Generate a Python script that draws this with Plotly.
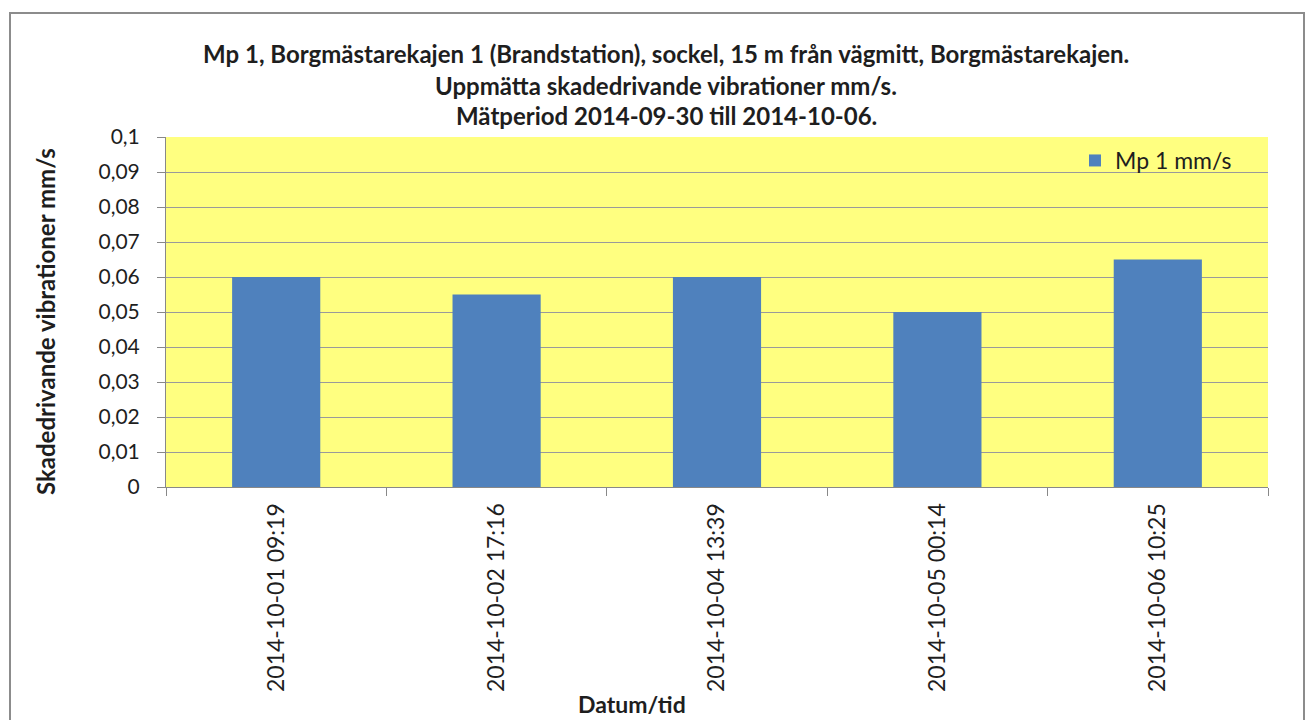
import plotly.graph_objects as go

categories = ["2014-10-01 09:19", "2014-10-02 17:16", "2014-10-04 13:39", "2014-10-05 00:14", "2014-10-06 10:25"]
values = [0.06, 0.055, 0.06, 0.05, 0.065]
series_name = "Mp 1 mm/s"
y_ticks = [0, 0.01, 0.02, 0.03, 0.04, 0.05, 0.06, 0.07, 0.08, 0.09, 0.1]
y_tick_labels = ["0", "0,01", "0,02", "0,03", "0,04", "0,05", "0,06", "0,07", "0,08", "0,09", "0,1"]
title_lines = [
    "Mp 1, Borgmästarekajen 1 (Brandstation), sockel, 15 m från vägmitt, Borgmästarekajen.",
    "Uppmätta skadedrivande vibrationer mm/s.",
    "Mätperiod 2014-09-30 till 2014-10-06.",
]
y_title = "Skadedrivande vibrationer mm/s"
x_title = "Datum/tid"

FONT = "Lato"
TXT = "#1e1e1e"
W, H = 1308, 720
L, R, T, B = 166, 40, 137, 233
pw, ph = W - L - R, H - T - B

def px_x(x):
    return (x - L) / pw

def px_y(y):
    return (H - B - y) / ph

fig = go.Figure()
fig.add_trace(go.Bar(
    x=categories, y=values, name=series_name,
    marker=dict(color="#4f81bd", line=dict(width=0)),
))

fig.update_layout(
    width=W, height=H,
    margin=dict(l=L, r=R, t=T, b=B),
    paper_bgcolor="white",
    plot_bgcolor="#ffff80",
    separators=", ",
    bargap=0.6,
    showlegend=True,
    legend=dict(x=px_x(1075), y=px_y(139), xanchor="left", yanchor="top",
                bgcolor="rgba(0,0,0,0)", font=dict(family=FONT, size=23, color=TXT),
                itemsizing="constant"),
    font=dict(family=FONT, color=TXT),
)
fig.update_xaxes(
    type="category", tickangle=-90, tickson="boundaries", ticks="outside",
    ticklen=8, tickcolor="#888", showline=True, linecolor="#888", linewidth=1,
    showgrid=False, tickfont=dict(family=FONT, size=23, color=TXT),
    ticklabelstandoff=6, range=[-0.5, 4.5],
)
fig.update_yaxes(
    range=[0, 0.1], tickvals=y_ticks, ticktext=y_tick_labels,
    ticks="outside", ticklen=8, tickcolor="#888", showline=True, linecolor="#888",
    showgrid=True, gridcolor="#9a9a9a", gridwidth=1, zeroline=False,
    tickfont=dict(family=FONT, size=21, color=TXT), ticklabelstandoff=13,
)

shapes = [dict(type="rect", xref="paper", yref="paper",
               x0=px_x(10), x1=px_x(1304), y0=px_y(13), y1=px_y(740),
               line=dict(color="#8c8c8c", width=2), fillcolor="rgba(0,0,0,0)", layer="below")]
fig.update_layout(shapes=shapes)

annotations = []
for line, yy in zip(title_lines, [53, 85, 116]):
    annotations.append(dict(text="<b>%s</b>" % line, xref="paper", yref="paper",
                            x=px_x(666), y=px_y(yy), xanchor="center", yanchor="middle",
                            showarrow=False, font=dict(family=FONT, size=24, color=TXT)))
annotations.append(dict(text="<b>%s</b>" % y_title, xref="paper", yref="paper",
                        x=px_x(45), y=px_y(322), xanchor="center", yanchor="middle",
                        textangle=-90, showarrow=False,
                        font=dict(family=FONT, size=24, color=TXT)))
annotations.append(dict(text="<b>%s</b>" % x_title, xref="paper", yref="paper",
                        x=px_x(632), y=px_y(704), xanchor="center", yanchor="middle",
                        showarrow=False, font=dict(family=FONT, size=23, color=TXT)))
fig.update_layout(annotations=annotations)

fig.write_html("out.html", config={"displayModeBar": False},
               post_script="document.body.style.margin='0';document.body.style.overflow='hidden';")
